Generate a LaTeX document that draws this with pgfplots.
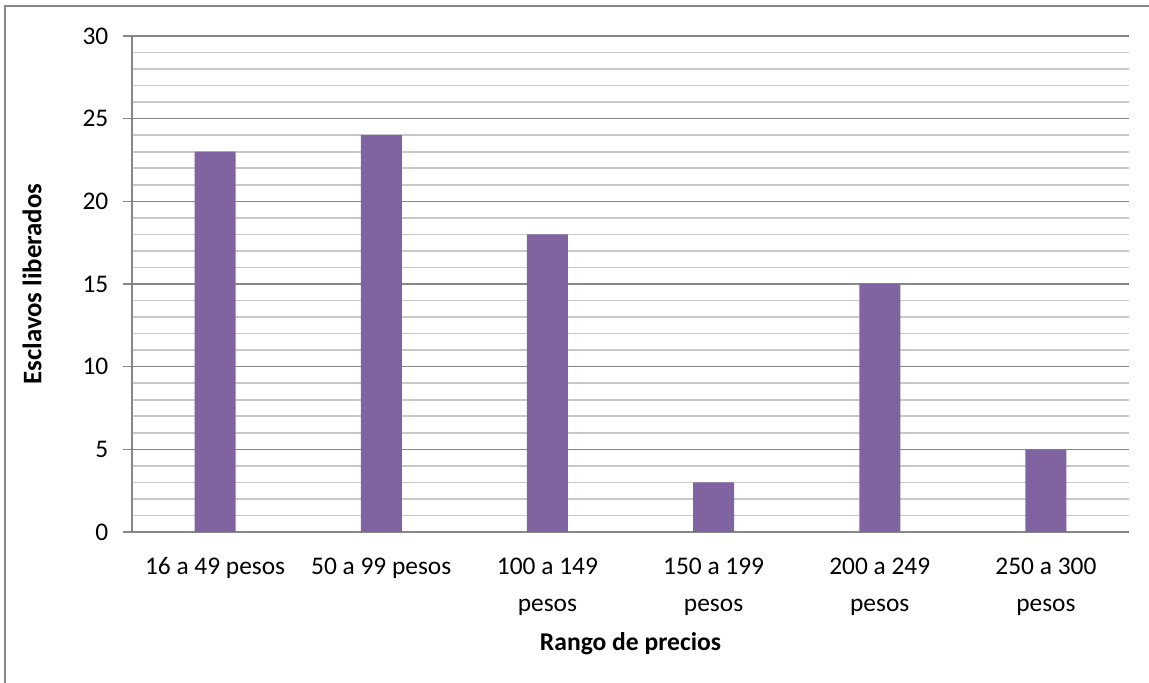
\documentclass[border=0pt]{standalone}
\usepackage{fontspec}
\setmainfont{Carlito}
\usepackage{pgfplots}
\pgfplotsset{compat=1.18}
\definecolor{barc}{HTML}{8064A2}
\definecolor{majc}{HTML}{878787}
\definecolor{minc}{HTML}{C8C8C8}
\begin{document}
\fontsize{12.5}{15.5}\selectfont
\begin{tikzpicture}
\clip (-66pt,-75.5pt) rectangle (508.5pt,266pt);
\draw[color=majc, line width=1pt] (-63.5pt,-100pt) -- (-63.5pt,263pt) -- (600pt,263pt);
\begin{axis}[
  at={(0pt,0pt)}, anchor=south west,
  scale only axis, width=498.5pt, height=248pt,
  xmin=-0.5, xmax=5.5, ymin=0, ymax=30,
  axis x line*=bottom, axis y line*=left,
  axis line style={color=majc, line width=0.9pt, -},
  ytick={0,5,...,30}, minor ytick={1,...,29},
  ymajorgrids, yminorgrids,
  major grid style={color=majc, line width=0.8pt},
  minor grid style={color=minc, line width=0.8pt},
  tick align=outside, major tick length=4.5pt,
  ytick style={color=majc, line width=0.8pt},
  minor y tick style={draw=none},
  xtick={0,...,5},
  xtick style={draw=none},
  xticklabels={16 a 49 pesos, 50 a 99 pesos, {100 a 149\\pesos}, {150 a 199\\pesos}, {200 a 249\\pesos}, {250 a 300\\pesos}},
  xticklabel style={align=center, font=\fontsize{12.7}{18.5}\selectfont, yshift=-4pt},
  yticklabel style={font=\fontsize{12.7}{15}\selectfont, xshift=-3pt},
  /pgf/number format/assume math mode=true,
  xlabel={\textbf{Rango de precios}},
  ylabel={\textbf{Esclavos liberados}},
  xlabel style={at={(axis description cs:0.5,-0.226)}, anchor=center, font=\fontsize{12.8}{14}\selectfont},
  ylabel style={at={(axis description cs:-0.1003,0.5)}, anchor=center, font=\fontsize{13.4}{14}\selectfont},
  clip=false,
]
\addplot[ybar, bar width=20.5pt, fill=barc, draw=none] coordinates {(0,23) (1,24) (2,18) (3,3) (4,15) (5,5)};
\end{axis}
\end{tikzpicture}
\end{document}
